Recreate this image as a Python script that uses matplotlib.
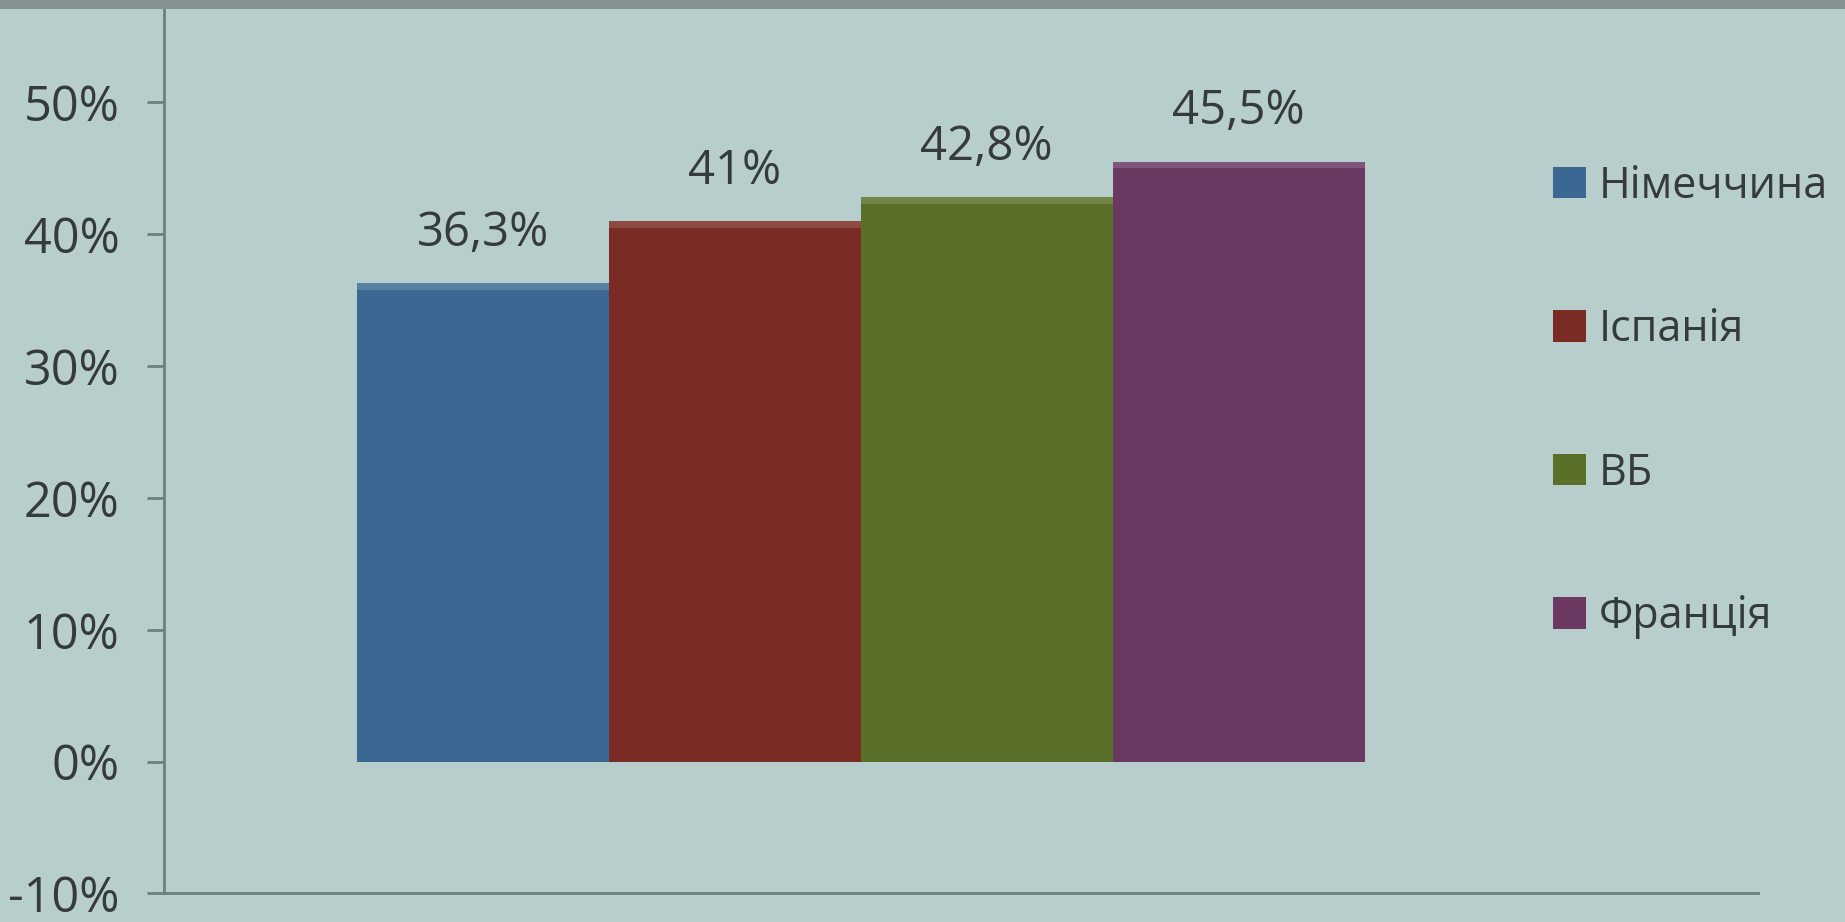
import matplotlib
matplotlib.use("Agg")
import matplotlib.pyplot as plt
from matplotlib.patches import Rectangle
from matplotlib.ticker import FuncFormatter

# Data
countries = ["Німеччина", "Іспанія", "ВБ", "Франція"]
shares = [36.3, 41.0, 42.8, 45.5]
value_labels = ["36,3%", "41%", "42,8%", "45,5%"]
colors = ["#3a6893", "#7a2c24", "#5a6f29", "#6b3862"]
y_ticks = [-10, 0, 10, 20, 30, 40, 50]

plt.rcParams["font.family"] = ["Open Sans", "DejaVu Sans"]
bg = "#b7cecc"
text_color = "#353a3a"
axis_color = "#6f7f7f"

fig = plt.figure(figsize=(18.45, 9.22), dpi=100, facecolor=bg)
ax = fig.add_axes([0.089, 0.031, 0.864, 0.958], facecolor=bg)

# Screen edge band at the very top
fig.patches.append(Rectangle((0, 0.99), 1, 0.01, transform=fig.transFigure,
                             facecolor="#84918f", edgecolor="none", zorder=0))

group_center = 0.437
width = 0.158
offsets = [-1.5, -0.5, 0.5, 1.5]
for off, val, lab, col, name in zip(offsets, shares, value_labels, colors, countries):
    x = group_center + off * width
    ax.bar(x, val, width=width, color=col, edgecolor="none", label=name, zorder=2)
    # lighter bevel along the top edge
    ax.bar(x, 0.5, bottom=val - 0.5, width=width, color="white", alpha=0.15,
           edgecolor="none", zorder=3)
    ax.annotate(lab, (x, val), xytext=(0, 19), textcoords="offset points",
                ha="center", va="bottom", fontsize=34, color=text_color)

ax.set_xlim(0, 1)
ax.set_ylim(-10, 57)
ax.set_yticks(y_ticks)
ax.yaxis.set_major_formatter(FuncFormatter(lambda v, p: f"{v:.0f}%"))
ax.set_xticks([])
ax.tick_params(axis="y", direction="out", length=12, width=2, color=axis_color,
               pad=20, labelsize=35, labelcolor=text_color)

for side in ["top", "right"]:
    ax.spines[side].set_visible(False)
for side in ["left", "bottom"]:
    ax.spines[side].set_color(axis_color)
    ax.spines[side].set_linewidth(2)

leg = ax.legend(loc="upper left", bbox_to_anchor=(0.842, 0.822),
                bbox_transform=fig.transFigure, frameon=False, fontsize=31,
                labelspacing=2.3, handlelength=0.75, handleheight=0.75,
                handletextpad=0.3, borderaxespad=0, borderpad=0)
for t in leg.get_texts():
    t.set_color(text_color)

fig.savefig("out.png", dpi=100, facecolor=bg)
